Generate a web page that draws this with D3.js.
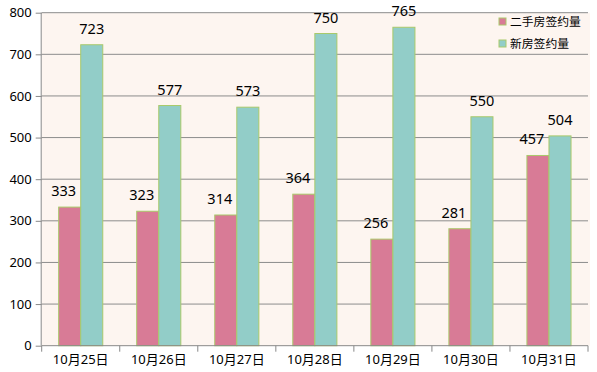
<!DOCTYPE html>
<meta charset="utf-8">
<style>
  body { margin: 0; background: #fff; }
  svg { display: block; }
  .axis text { font-family: "Noto Sans", "Noto Sans CJK SC", sans-serif; font-size: 13px; fill: #000; }
  .axis path, .axis line { stroke: #888; }
</style>
<body></body>
<script src="https://d3js.org/d3.v7.min.js"></script>
<script>
  var categories = ["10月25日", "10月26日", "10月27日", "10月28日", "10月29日", "10月30日", "10月31日"];
  var seriesNames = ["二手房签约量", "新房签约量"];
  var secondHand = [333, 323, 314, 364, 256, 281, 457];
  var newHouse = [723, 577, 573, 750, 765, 550, 504];
  var yTicks = [0, 100, 200, 300, 400, 500, 600, 700, 800];
  var colors = ["#d87b96", "#92cdc8"];

  var margin = {top: 12.7, right: 9, bottom: 26.3, left: 41.7},
    W = 597, H = 372,
    width = W - margin.left - margin.right,
    height = H - margin.top - margin.bottom;

  var svg = d3.select("body").append("svg")
    .attr("width", W)
    .attr("height", H);

  var g = svg.append("g")
    .attr("transform", "translate(" + margin.left + "," + margin.top + ")");

  var x0 = d3.scaleBand().domain(categories).range([0, width]).padding(0);
  var x1 = d3.scaleBand().domain(seriesNames).range([0, x0.bandwidth()])
    .paddingInner(0).paddingOuter(0.77);
  var y = d3.scaleLinear().domain([0, 800]).range([height, 0]);

  // plot background
  g.append("rect")
    .attr("width", width + 2)
    .attr("height", height)
    .attr("fill", "#fdf5f0");

  // gridlines
  g.append("g").selectAll("line")
    .data(yTicks.slice(1))
    .enter().append("line")
    .attr("x1", 0).attr("x2", width)
    .attr("y1", function(d) { return y(d); })
    .attr("y2", function(d) { return y(d); })
    .attr("stroke", "#8c8c8c");

  // bars
  var data = categories.map(function(c, i) {
    return {cat: c, values: [secondHand[i], newHouse[i]]};
  });

  var groups = g.selectAll(".grp")
    .data(data)
    .enter().append("g")
    .attr("class", "grp")
    .attr("transform", function(d) { return "translate(" + x0(d.cat) + ",0)"; });

  groups.selectAll("rect")
    .data(function(d) { return d.values.map(function(v, k) { return {s: k, v: v}; }); })
    .enter().append("rect")
    .attr("x", function(d) { return x1(seriesNames[d.s]); })
    .attr("y", function(d) { return y(d.v); })
    .attr("width", x1.bandwidth())
    .attr("height", function(d) { return height - y(d.v); })
    .attr("fill", function(d) { return colors[d.s]; })
    .attr("stroke", "#a9c96a")
    .attr("stroke-width", 1);

  groups.selectAll("text")
    .data(function(d) { return d.values.map(function(v, k) { return {s: k, v: v}; }); })
    .enter().append("text")
    .attr("x", function(d) { return x1(seriesNames[d.s]) + x1.bandwidth() / 2; })
    .attr("dx", function(d) { return d.s === 0 ? -6 : 0; })
    .attr("y", function(d) { return y(d.v) - 11; })
    .attr("text-anchor", "middle")
    .style("font-family", "'Noto Sans', sans-serif")
    .style("font-size", "14.5px")
    .style("fill", "#000")
    .text(function(d) { return d.v; });

  // axes
  g.append("g")
    .attr("class", "axis")
    .call(d3.axisLeft(y).tickValues(yTicks).tickSize(6).tickPadding(4))
    .call(function(a) { a.select(".domain").attr("d", "M-0.5," + height + "V0"); });

  var xAxis = g.append("g")
    .attr("class", "axis")
    .attr("transform", "translate(0," + height + ")")
    .call(d3.axisBottom(x0).tickSize(0).tickPadding(9));
  xAxis.select(".domain").attr("d", "M0,0H" + width);
  xAxis.selectAll(".bnd")
    .data(categories.concat(["end"]))
    .enter().append("line")
    .attr("class", "bnd")
    .attr("x1", function(d, i) { return i * x0.step(); })
    .attr("x2", function(d, i) { return i * x0.step(); })
    .attr("y1", 0).attr("y2", 6)
    .attr("stroke", "#888");

  // legend
  var legend = svg.append("g")
    .attr("transform", "translate(499,18)");
  var items = legend.selectAll("g")
    .data(seriesNames)
    .enter().append("g")
    .attr("transform", function(d, i) { return "translate(0," + i * 22 + ")"; });
  items.append("rect")
    .attr("width", 7).attr("height", 7)
    .attr("fill", function(d, i) { return colors[i]; })
    .attr("stroke", "#a9c96a");
  items.append("text")
    .attr("x", 11).attr("y", 7.5)
    .style("font-family", "'Noto Sans CJK SC', sans-serif")
    .style("font-size", "11.8px")
    .style("fill", "#000")
    .text(function(d) { return d; });
</script>
